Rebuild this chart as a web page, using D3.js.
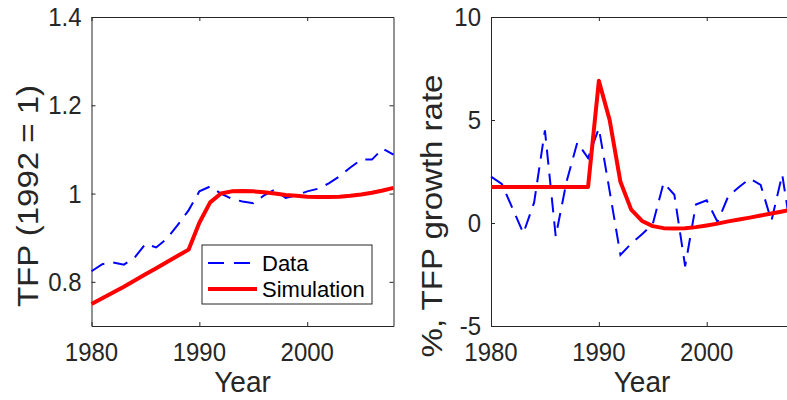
<!DOCTYPE html>
<html>
<head>
<meta charset="utf-8">
<script src="https://cdn.jsdelivr.net/npm/d3@7"></script>
<style>
  body { margin: 0; background: #fff; }
  svg { display: block; font-family: "Liberation Sans", Arial, Helvetica, sans-serif; }
</style>
</head>
<body>
<script>
// years on the x axis
var years = [1980,1981,1982,1983,1984,1985,1986,1987,1988,1989,
             1990,1991,1992,1993,1994,1995,1996,1997,1998,1999,
             2000,2001,2002,2003,2004,2005,2006,2007,2008];

// left panel: TFP level (1992 = 1)
var tfpData = [0.824,0.840,0.844,0.839,0.855,0.886,0.878,0.898,0.929,0.962,
               1.005,1.016,1.000,0.988,0.982,0.978,0.996,1.009,0.990,0.996,
               1.005,1.011,1.023,1.039,1.059,1.077,1.077,1.102,1.088];
var tfpSim = [0.750,0.763,0.776,0.789,0.803,0.817,0.831,0.845,0.859,0.873,
              0.934,0.980,1.000,1.005,1.006,1.005,1.003,1.000,0.997,0.995,
              0.993,0.992,0.992,0.993,0.995,0.998,1.002,1.007,1.013];

// right panel: TFP growth rate, %
var growthData = [2.25,1.9,0.7,-0.5,1.0,4.5,-0.65,2.0,3.9,3.15,
                  4.6,1.55,-1.55,-1.0,-0.55,-0.05,1.95,1.37,-2.1,0.9,
                  1.1,0.05,1.3,1.75,2.15,1.85,0.1,2.35,-1.0];
var growthSim = [1.75,1.75,1.75,1.75,1.75,1.75,1.75,1.75,1.75,1.75,
                 6.9,5.0,2.0,0.65,0.1,-0.15,-0.25,-0.27,-0.25,-0.2,
                 -0.12,-0.03,0.08,0.17,0.26,0.36,0.46,0.56,0.66];

var xTicks = [1980, 1990, 2000];
var leftTicks = [0.8, 1, 1.2, 1.4];
var rightTicks = [-5, 0, 5, 10];
var legendLabels = ['Data', 'Simulation'];

var W = 787, H = 400;
var axisColor = '#262626';
var svg = d3.select('body').append('svg').attr('width', W).attr('height', H);

// draw one panel
var panel = function(opt){
    var x = d3.scaleLinear().domain([1980, 2008]).range([opt.x0, opt.x1]);
    var y = d3.scaleLinear().domain(opt.ydom).range([326, 17]);
    var g = svg.append('g');

    // box with inward ticks on all four sides
    var tl = 4;
    g.append('g').attr('transform', 'translate(0,326)')
        .call(d3.axisBottom(x).tickValues(xTicks).tickSizeInner(-tl).tickSizeOuter(0).tickFormat(''));
    g.append('g').attr('transform', 'translate(0,17)')
        .call(d3.axisTop(x).tickValues(xTicks).tickSizeInner(-tl).tickSizeOuter(0).tickFormat(''));
    g.append('g').attr('transform', 'translate(' + opt.x0 + ',0)')
        .call(d3.axisLeft(y).tickValues(opt.ticks).tickSizeInner(-tl).tickSizeOuter(0).tickFormat(''));
    g.append('g').attr('transform', 'translate(' + opt.x1 + ',0)')
        .call(d3.axisRight(y).tickValues(opt.ticks).tickSizeInner(-tl).tickSizeOuter(0).tickFormat(''));
    g.selectAll('.domain, .tick line').attr('stroke', axisColor).attr('stroke-width', 1);

    // tick labels (slightly tall, like the original figure)
    g.selectAll('.xlab').data(xTicks).enter().append('text')
        .attr('transform', function(d){ return 'translate(' + x(d) + ',361) scale(1,1.1)'; })
        .attr('text-anchor', 'middle')
        .style('font-size', '24px').style('fill', axisColor)
        .text(function(d){ return d; });
    g.selectAll('.ylab').data(opt.ticks).enter().append('text')
        .attr('transform', function(d){ return 'translate(' + (opt.x0 - 10) + ',' + (y(d) + 9) + ') scale(1,1.1)'; })
        .attr('text-anchor', 'end')
        .style('font-size', '24px').style('fill', axisColor)
        .text(opt.fmt);

    // axis titles
    g.append('text')
        .attr('transform', 'translate(' + ((opt.x0 + opt.x1) / 2) + ',392) scale(1,1.08)')
        .attr('text-anchor', 'middle')
        .style('font-size', '28px').style('fill', axisColor)
        .text('Year');
    g.append('text')
        .attr('transform', 'translate(' + opt.tx + ',' + opt.ty + ') scale(1,1.1) rotate(-90)')
        .attr('text-anchor', 'middle')
        .style('font-size', '30px').style('fill', axisColor)
        .text(opt.title);

    var line = d3.line()
        .x(function(d, i){ return x(years[i]); })
        .y(function(d){ return y(d); });

    g.append('path').datum(opt.data)
        .attr('d', line)
        .style('fill', 'none')
        .style('stroke', '#0000ff')
        .style('stroke-width', 2)
        .style('stroke-dasharray', '15,9');
    g.append('path').datum(opt.sim)
        .attr('d', line)
        .style('fill', 'none')
        .style('stroke', '#ff0000')
        .style('stroke-width', 4)
        .style('stroke-linejoin', 'round');
};

panel({x0: 91.5, x1: 393.5, ydom: [0.7, 1.4], ticks: leftTicks,
       fmt: function(d){ return d3.format('')(d); },
       data: tfpData, sim: tfpSim, title: 'TFP (1992 = 1)', tx: 38, ty: 196});
panel({x0: 491, x1: 793, ydom: [-5, 10], ticks: rightTicks,
       fmt: function(d){ return String(d); },
       data: growthData, sim: growthSim, title: '%, TFP growth rate', tx: 442, ty: 216});

// legend in the left panel
var lg = svg.append('g');
lg.append('rect')
    .attr('x', 202).attr('y', 245).attr('width', 170).attr('height', 59)
    .style('fill', '#fff').style('stroke', axisColor).style('stroke-width', 1);
lg.append('line')
    .attr('x1', 208).attr('x2', 251).attr('y1', 263).attr('y2', 263)
    .style('stroke', '#0000ff').style('stroke-width', 2).style('stroke-dasharray', '16,10');
lg.append('line')
    .attr('x1', 208).attr('x2', 257).attr('y1', 289).attr('y2', 289)
    .style('stroke', '#ff0000').style('stroke-width', 4);
lg.selectAll('.lt').data(legendLabels).enter().append('text')
    .attr('x', 262)
    .attr('y', function(d, i){ return 271 + i * 26; })
    .style('font-size', '22px').style('fill', '#000')
    .text(function(d){ return d; });
</script>
</body>
</html>
